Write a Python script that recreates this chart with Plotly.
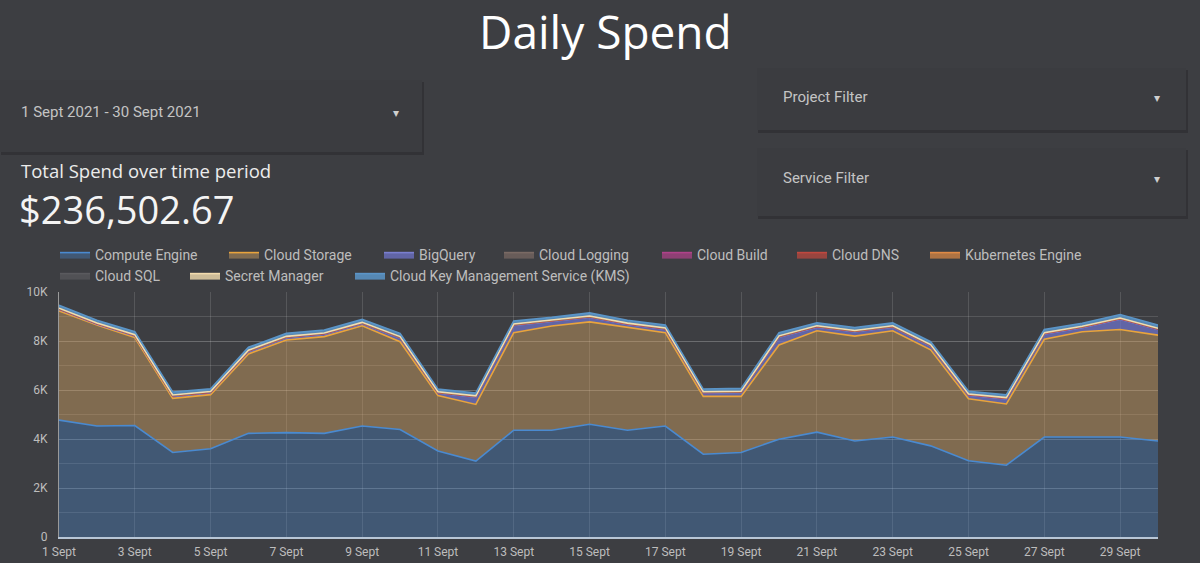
import plotly.graph_objects as go

# ---------------- data ----------------
days = [f"2021-09-{d:02d}" for d in range(1, 31)]
tick_days = [f"2021-09-{d:02d}" for d in range(1, 31, 2)]
tick_labels = [f"{d} Sept" for d in range(1, 31, 2)]
y_tickvals = [0, 2000, 4000, 6000, 8000, 10000]
y_ticklabels = ["0", "2K", "4K", "6K", "8K", "10K"]

compute_engine = [4770, 4530, 4550, 3450, 3600, 4230, 4260, 4230, 4530, 4390,
                  3510, 3100, 4360, 4360, 4600, 4360, 4530, 3380, 3450, 3990,
                  4280, 3920, 4080, 3720, 3110, 2930, 4080, 4080, 4080, 3920]
cloud_storage = [4460, 4120, 3590, 2210, 2210, 3240, 3780, 3950, 4090, 3580,
                 2260, 2310, 3980, 4250, 4180, 4190, 3810, 2360, 2290, 3850,
                 4140, 4280, 4340, 3920, 2530, 2500, 3990, 4300, 4390, 4320]
bigquery = [57, 37, 67, 87, 77, 97, 97, 97, 87, 157,
            107, 297, 297, 177, 187, 127, 137, 137, 157, 317,
            147, 177, 147, 157, 147, 207, 217, 167, 417, 227]
cloud_logging = [20, 18, 21, 19, 20, 22, 20, 19, 21, 20,
                 18, 20, 21, 22, 20, 19, 21, 20, 19, 20,
                 21, 20, 19, 21, 20, 19, 20, 21, 22, 20]
cloud_build = [4, 4, 5, 3, 4, 4, 5, 4, 4, 5, 3, 4, 4, 5, 4, 4, 5, 3, 4, 4,
               5, 4, 4, 5, 3, 4, 4, 5, 4, 4]
cloud_dns = [3, 3, 3, 3, 3, 3, 3, 3, 3, 3, 3, 3, 3, 3, 3, 3, 3, 3, 3, 3,
             3, 3, 3, 3, 3, 3, 3, 3, 3, 3]
kubernetes_engine = [12, 13, 11, 12, 12, 13, 12, 11, 12, 13, 12, 12, 13, 12, 11,
                     12, 13, 12, 12, 13, 12, 11, 12, 13, 12, 12, 13, 12, 11, 12]
cloud_sql = [8, 8, 8, 8, 8, 8, 8, 8, 8, 8, 8, 8, 8, 8, 8, 8, 8, 8, 8, 8,
             8, 8, 8, 8, 8, 8, 8, 8, 8, 8]
secret_manager = [6, 6, 5, 6, 6, 6, 5, 6, 6, 6, 6, 6, 5, 6, 6, 6, 6, 6, 5, 6,
                  6, 6, 6, 6, 5, 6, 6, 6, 6, 6]
cloud_kms = [120, 110, 120, 120, 110, 120, 120, 120, 120, 130,
             110, 120, 130, 120, 130, 120, 120, 110, 120, 130,
             120, 120, 120, 120, 110, 120, 130, 120, 140, 130]

series_names = ["Compute Engine", "Cloud Storage", "BigQuery", "Cloud Logging",
                "Cloud Build", "Cloud DNS", "Kubernetes Engine", "Cloud SQL",
                "Secret Manager", "Cloud Key Management Service (KMS)"]
series_values = [compute_engine, cloud_storage, bigquery, cloud_logging,
                 cloud_build, cloud_dns, kubernetes_engine, cloud_sql,
                 secret_manager, cloud_kms]

# ---------------- styles ----------------
line_colors = ["#4a8ad0", "#e9a43c", "#7a7fd0", "#7a6a64", "#b0428a",
               "#c0483f", "#e08a45", "#5a5a5e", "#f3dcae", "#5b95c8"]
fill_colors = ["rgba(74,138,208,0.35)", "rgba(221,170,100,0.42)",
               "rgba(110,115,200,0.75)", "rgba(122,106,100,0.7)",
               "rgba(176,66,138,0.7)", "rgba(192,72,63,0.7)",
               "rgba(224,138,69,0.7)", "rgba(90,90,94,0.7)",
               "rgba(243,220,174,0.8)", "rgba(91,149,200,0.85)"]
# legend entry placement (text-start x, row-centre y) in page pixels
legend_text_x = [95, 264, 419, 539, 697, 832, 965, 95, 225, 390]
legend_row_y = [256, 256, 256, 256, 256, 256, 256, 277, 277, 277]

BG = "#3d3e42"
FONT = "Roboto"
HFONT = "Open Sans"

# plot-area pixel geometry (1200x563 page)
L, R, T, B = 59, 1158, 292, 537
W, H = R - L, B - T


def px(x):
    return (x - L) / W


def py(y):
    return (B - y) / H


fig = go.Figure()
legends = {}
for i, (name, vals, lc, fc) in enumerate(zip(series_names, series_values, line_colors, fill_colors)):
    lg = "legend" if i == 0 else f"legend{i + 1}"
    fig.add_trace(go.Scatter(
        x=days, y=vals, name=name, mode="lines", stackgroup="one",
        line=dict(color=lc, width=1.6), fillcolor=fc, legend=lg,
    ))
    legends[lg] = dict(orientation="h", x=px(legend_text_x[i] - 40), xanchor="left",
                       y=py(legend_row_y[i] - 17), yanchor="top",
                       font=dict(family=FONT, size=14, color="#bdbdbd"),
                       bgcolor="rgba(0,0,0,0)", itemwidth=30)

shapes = []
cards = [(0, 80, 422, 152), (757, 68, 1186, 130), (757, 148, 1186, 216)]
for (x0, y0, x1, y1) in cards:
    shapes.append(dict(type="rect", xref="paper", yref="paper", layer="below",
                       x0=px(x0 + 1), x1=px(x1 + 2), y0=py(y1 + 3), y1=py(y0 + 2),
                       fillcolor="rgba(0,0,0,0.18)", line=dict(width=0)))
    shapes.append(dict(type="rect", xref="paper", yref="paper", layer="below",
                       x0=px(x0), x1=px(x1), y0=py(y1), y1=py(y0),
                       fillcolor="#3b3c40", line=dict(width=0)))

annotations = [
    dict(text="Daily Spend", x=px(605), y=py(31), font=dict(family=HFONT, size=46, color="#ffffff")),
    dict(text="1 Sept 2021 - 30 Sept 2021", x=px(19), y=py(112), xanchor="left",
         font=dict(family=FONT, size=15, color="#c4c4c4")),
    dict(text="▾", x=px(396), y=py(113), font=dict(family=FONT, size=12, color="#cfcfcf")),
    dict(text="Project Filter", x=px(781), y=py(97), xanchor="left",
         font=dict(family=FONT, size=15, color="#c4c4c4")),
    dict(text="▾", x=px(1157), y=py(98), font=dict(family=FONT, size=12, color="#cfcfcf")),
    dict(text="Service Filter", x=px(781), y=py(178), xanchor="left",
         font=dict(family=FONT, size=15, color="#c4c4c4")),
    dict(text="▾", x=px(1157), y=py(179), font=dict(family=FONT, size=12, color="#cfcfcf")),
    dict(text="Total Spend over time period", x=px(19), y=py(170), xanchor="left",
         font=dict(family=HFONT, size=18.5, color="#ececec")),
    dict(text="$236,502.67", x=px(17), y=py(209), xanchor="left",
         font=dict(family=HFONT, size=38, color="#f4f4f4")),
]
for a in annotations:
    a.update(xref="paper", yref="paper", showarrow=False)
    a.setdefault("xanchor", "center")
    a["yanchor"] = "middle"

fig.update_layout(
    width=1200, height=563,
    margin=dict(l=L, r=1200 - R, t=T, b=563 - B, pad=0, autoexpand=False),
    paper_bgcolor=BG, plot_bgcolor=BG,
    font=dict(family=FONT, color="#bdbdbd"),
    showlegend=True,
    shapes=shapes,
    annotations=annotations,
    hovermode=False,
    **legends,
)

fig.update_xaxes(
    type="date", range=[days[0], days[-1]], automargin=False,
    tickmode="array", tickvals=tick_days, ticktext=tick_labels,
    tickfont=dict(family=FONT, size=12, color="#bdbdbd"), ticklabelstandoff=3,
    showgrid=True, gridcolor="rgba(255,255,255,0.13)", gridwidth=1,
    showline=True, linecolor="#b8c6d6", linewidth=2,
    ticks="", zeroline=False, fixedrange=True,
)
fig.update_yaxes(
    range=[0, 10000], automargin=False,
    tickmode="array", tickvals=y_tickvals, ticktext=y_ticklabels,
    tickfont=dict(family=FONT, size=12, color="#bdbdbd"),
    showgrid=True, gridcolor="rgba(255,255,255,0.13)", gridwidth=1,
    minor=dict(dtick=1000, showgrid=True, gridcolor="rgba(255,255,255,0.13)", gridwidth=1),
    showline=True, linecolor="#9a9a9a", linewidth=1,
    ticks="", ticklabelstandoff=8, zeroline=False, fixedrange=True,
)

fig.write_html("out.html", config={"displayModeBar": False},
               post_script="document.body.style.margin='0';document.body.style.background='%s';" % BG)
